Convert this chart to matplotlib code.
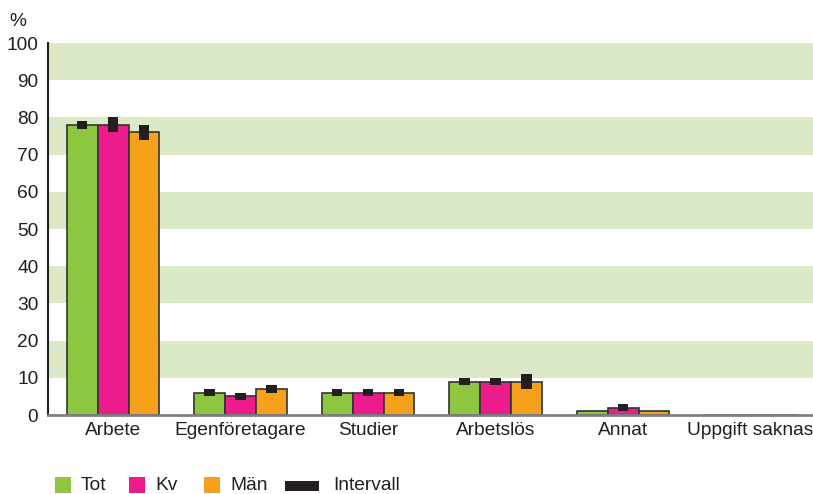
import matplotlib
matplotlib.use("Agg")
import matplotlib.pyplot as plt
from matplotlib.patches import Rectangle
import numpy as np

plt.rcParams['font.family'] = ['Liberation Sans', 'DejaVu Sans']

categories = ["Arbete", "Egenföretagare", "Studier", "Arbetslös", "Annat", "Uppgift saknas"]
series_names = ["Tot", "Kv", "Män"]
tot = [78, 6, 6, 9, 1, 0]
kv = [78, 5, 6, 9, 2, 0]
man = [76, 7, 6, 9, 1, 0]
tot_lo = [77, 5, 5, 8, None, None]
tot_hi = [79, 7, 7, 10, None, None]
kv_lo = [76, 4, 5, 8, 1, None]
kv_hi = [80, 6, 7, 10, 3, None]
man_lo = [74, 6, 5, 7, None, None]
man_hi = [78, 8, 7, 11, None, None]
yticks = [0, 10, 20, 30, 40, 50, 60, 70, 80, 90, 100]

colors = ["#8dc63f", "#ec1c8c", "#f7a01c"]
int_color = "#231f20"
band_color = "#dbe9c6"
FS = 13.8

W, H = 813, 494
fig = plt.figure(figsize=(W / 100, H / 100), dpi=100)
ax = fig.add_axes([48 / W, 1 - 415 / H, 1 - 48 / W, (415 - 43) / H])

for b in range(10, 100, 20):
    ax.axhspan(b, b + 10, color=band_color, lw=0, zorder=0)

x = np.arange(len(categories))
bw = 0.243
vals = [tot, kv, man]
los = [tot_lo, kv_lo, man_lo]
his = [tot_hi, kv_hi, man_hi]
for i, (v, c) in enumerate(zip(vals, colors)):
    pos = x + (i - 1) * bw
    ax.bar(pos, v, width=bw, color=c, edgecolor="#333333", linewidth=1.2, zorder=2)
    lo = los[i]
    hi = his[i]
    for p, l, h in zip(pos, lo, hi):
        if l is None:
            continue
        ax.bar(p, h - l, bottom=l, width=0.08, color=int_color, lw=0, zorder=3)

ax.set_xlim(-0.51, 5.49)
ax.set_ylim(0, 100)
ax.set_yticks(yticks)
ax.set_xticks(x)
ax.set_xticklabels(categories)
ax.tick_params(axis='both', length=0, labelsize=FS, colors="#231f20")
ax.tick_params(axis='y', pad=7)
ax.tick_params(axis='x', pad=5)
for s in ["top", "right"]:
    ax.spines[s].set_visible(False)
ax.spines["left"].set_color("#231f20")
ax.spines["left"].set_linewidth(1.5)
ax.spines["bottom"].set_color("#808080")
ax.spines["bottom"].set_linewidth(2)
ax.patch.set_alpha(0)

fig.text(18 / W, 1 - 21 / H, "%", fontsize=FS, ha="center", va="center", color="#231f20")

# legend
leg_y = 1 - 485 / H
sq = 16
items = [(55, colors[0], "Tot"), (129, colors[1], "Kv"), (204, colors[2], "Män")]
for px, c, lab in items:
    fig.patches.append(Rectangle((px / W, 1 - 493 / H), sq / W, sq / H, transform=fig.transFigure,
                                 color=c, lw=0))
    fig.text((px + 26) / W, leg_y, lab, fontsize=FS, va="center", ha="left", color="#231f20")
fig.patches.append(Rectangle((285 / W, 1 - 491 / H), 34 / W, 10 / H, transform=fig.transFigure,
                             color=int_color, lw=0))
fig.text(333 / W, leg_y, "Intervall", fontsize=FS, va="center", ha="left", color="#231f20")

fig.savefig("out.png", dpi=100)
